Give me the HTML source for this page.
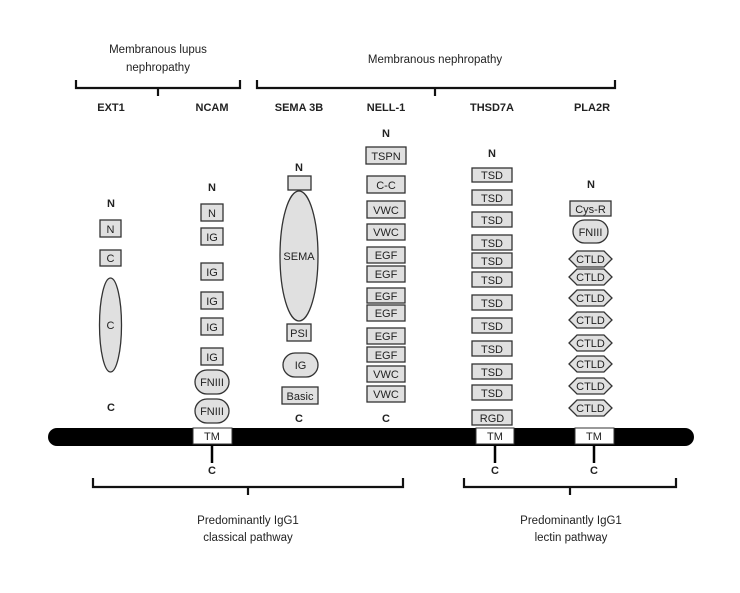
<!DOCTYPE html>
<html><head><meta charset="utf-8"><style>
html,body{margin:0;padding:0;background:#fff}
svg{display:block}
text{font-family:"Liberation Sans",sans-serif;fill:#222}
.b{font-weight:bold;font-size:11px}
.l{font-size:11px;text-anchor:middle}
.d{fill:#e0e0e0;stroke:#333;stroke-width:1.3}
.br{fill:none;stroke:#111;stroke-width:2.2}
</style></head><body>
<svg width="740" height="593" viewBox="0 0 740 593" xmlns="http://www.w3.org/2000/svg">
<!-- top brackets -->
<text class="l" x="158" y="53" style="font-size:11.5px">Membranous lupus</text>
<text class="l" x="158" y="71" style="font-size:11.5px">nephropathy</text>
<text class="l" x="435" y="63" style="font-size:11.5px">Membranous nephropathy</text>
<path class="br" d="M76 80 V88 H240 V80 M158 88 V96"/>
<path class="br" d="M257 80 V88 H615 V80 M435 88 V96"/>
<g class="b" text-anchor="middle">
<text x="111" y="111" class="b">EXT1</text>
<text x="212" y="111" class="b">NCAM</text>
<text x="299" y="111" class="b">SEMA 3B</text>
<text x="386" y="111" class="b">NELL-1</text>
<text x="492" y="111" class="b">THSD7A</text>
<text x="592" y="111" class="b">PLA2R</text>
</g>
<!-- membrane -->
<rect x="48" y="428" width="646" height="18" rx="9" fill="#000"/>
<g>
<rect x="193" y="428" width="39" height="16" fill="#fff" stroke="#333"/>
<rect x="476" y="428" width="38" height="16" fill="#fff" stroke="#333"/>
<rect x="575" y="428" width="39" height="16" fill="#fff" stroke="#333"/>
<text class="l" x="212" y="440">TM</text>
<text class="l" x="495" y="440">TM</text>
<text class="l" x="594" y="440">TM</text>
<path d="M212 446 V463 M495 446 V463 M594 446 V463" stroke="#000" stroke-width="2.5"/>
</g>
<g text-anchor="middle">
<text class="b" x="212" y="474" text-anchor="middle">C</text>
<text class="b" x="495" y="474" text-anchor="middle">C</text>
<text class="b" x="594" y="474" text-anchor="middle">C</text>
</g>
<!-- EXT1 -->
<text class="b" x="111" y="207" text-anchor="middle">N</text>
<rect class="d" x="100" y="220" width="21" height="17"/><text class="l" x="110.5" y="233">N</text>
<rect class="d" x="100" y="250" width="21" height="16"/><text class="l" x="110.5" y="262">C</text>
<ellipse class="d" cx="110.5" cy="325" rx="11" ry="47"/><text class="l" x="110.5" y="329">C</text>
<text class="b" x="111" y="411" text-anchor="middle">C</text>
<!-- NCAM -->
<text class="b" x="212" y="191" text-anchor="middle">N</text>
<g>
<rect class="d" x="201" y="204" width="22" height="17"/><text class="l" x="212" y="217">N</text>
<rect class="d" x="201" y="228" width="22" height="17"/><text class="l" x="212" y="241">IG</text>
<rect class="d" x="201" y="263" width="22" height="17"/><text class="l" x="212" y="276">IG</text>
<rect class="d" x="201" y="292" width="22" height="17"/><text class="l" x="212" y="305">IG</text>
<rect class="d" x="201" y="318" width="22" height="17"/><text class="l" x="212" y="331">IG</text>
<rect class="d" x="201" y="348" width="22" height="17"/><text class="l" x="212" y="361">IG</text>
<rect class="d" x="195" y="370" width="34" height="24" rx="12"/><text class="l" x="212" y="386">FNIII</text>
<rect class="d" x="195" y="399" width="34" height="24" rx="12"/><text class="l" x="212" y="415">FNIII</text>
</g>
<!-- SEMA 3B -->
<text class="b" x="299" y="171" text-anchor="middle">N</text>
<rect class="d" x="288" y="176" width="23" height="14"/>
<ellipse class="d" cx="299" cy="256" rx="19" ry="65"/><text class="l" x="299" y="260">SEMA</text>
<rect class="d" x="287" y="324" width="24" height="17"/><text class="l" x="299" y="337">PSI</text>
<rect class="d" x="283" y="353" width="35" height="24" rx="12"/><text class="l" x="300.5" y="369">IG</text>
<rect class="d" x="282" y="387" width="36" height="17"/><text class="l" x="300" y="400">Basic</text>
<text class="b" x="299" y="422" text-anchor="middle">C</text>
<!-- NELL-1 -->
<text class="b" x="386" y="137" text-anchor="middle">N</text>
<g>
<rect class="d" x="366" y="147" width="40" height="17"/><text class="l" x="386" y="160">TSPN</text>
<rect class="d" x="367" y="176" width="38" height="17"/><text class="l" x="386" y="189">C-C</text>
<rect class="d" x="367" y="201" width="38" height="17"/><text class="l" x="386" y="214">VWC</text>
<rect class="d" x="367" y="224" width="38" height="16"/><text class="l" x="386" y="236">VWC</text>
<rect class="d" x="367" y="247" width="38" height="16"/><text class="l" x="386" y="259">EGF</text>
<rect class="d" x="367" y="266" width="38" height="16"/><text class="l" x="386" y="278">EGF</text>
<rect class="d" x="367" y="288" width="38" height="15"/><text class="l" x="386" y="300">EGF</text>
<rect class="d" x="367" y="305" width="38" height="16"/><text class="l" x="386" y="317">EGF</text>
<rect class="d" x="367" y="328" width="38" height="16"/><text class="l" x="386" y="340">EGF</text>
<rect class="d" x="367" y="347" width="38" height="15"/><text class="l" x="386" y="359">EGF</text>
<rect class="d" x="367" y="366" width="38" height="16"/><text class="l" x="386" y="378">VWC</text>
<rect class="d" x="367" y="386" width="38" height="16"/><text class="l" x="386" y="398">VWC</text>
</g>
<text class="b" x="386" y="422" text-anchor="middle">C</text>
<!-- THSD7A -->
<text class="b" x="492" y="157" text-anchor="middle">N</text>
<g>
<rect class="d" x="472" y="168" width="40" height="14"/><text class="l" x="492" y="179">TSD</text>
<rect class="d" x="472" y="190" width="40" height="15"/><text class="l" x="492" y="202">TSD</text>
<rect class="d" x="472" y="212" width="40" height="15"/><text class="l" x="492" y="224">TSD</text>
<rect class="d" x="472" y="235" width="40" height="15"/><text class="l" x="492" y="247">TSD</text>
<rect class="d" x="472" y="253" width="40" height="15"/><text class="l" x="492" y="265">TSD</text>
<rect class="d" x="472" y="272" width="40" height="15"/><text class="l" x="492" y="284">TSD</text>
<rect class="d" x="472" y="295" width="40" height="15"/><text class="l" x="492" y="307">TSD</text>
<rect class="d" x="472" y="318" width="40" height="15"/><text class="l" x="492" y="330">TSD</text>
<rect class="d" x="472" y="341" width="40" height="15"/><text class="l" x="492" y="353">TSD</text>
<rect class="d" x="472" y="364" width="40" height="15"/><text class="l" x="492" y="376">TSD</text>
<rect class="d" x="472" y="385" width="40" height="15"/><text class="l" x="492" y="397">TSD</text>
<rect class="d" x="472" y="410" width="40" height="15"/><text class="l" x="492" y="422">RGD</text>
</g>
<!-- PLA2R -->
<text class="b" x="591" y="188" text-anchor="middle">N</text>
<rect class="d" x="570" y="201" width="41" height="15"/><text class="l" x="590.5" y="213">Cys-R</text>
<rect class="d" x="573" y="220" width="35" height="23" rx="11.5"/><text class="l" x="590.5" y="236">FNIII</text>
<g>
<polygon class="d" points="569,259 577,251 604,251 612,259 604,267 577,267"/><text class="l" x="590.5" y="263">CTLD</text>
<polygon class="d" points="569,277 577,269 604,269 612,277 604,285 577,285"/><text class="l" x="590.5" y="281">CTLD</text>
<polygon class="d" points="569,298 577,290 604,290 612,298 604,306 577,306"/><text class="l" x="590.5" y="302">CTLD</text>
<polygon class="d" points="569,320 577,312 604,312 612,320 604,328 577,328"/><text class="l" x="590.5" y="324">CTLD</text>
<polygon class="d" points="569,343 577,335 604,335 612,343 604,351 577,351"/><text class="l" x="590.5" y="347">CTLD</text>
<polygon class="d" points="569,364 577,356 604,356 612,364 604,372 577,372"/><text class="l" x="590.5" y="368">CTLD</text>
<polygon class="d" points="569,386 577,378 604,378 612,386 604,394 577,394"/><text class="l" x="590.5" y="390">CTLD</text>
<polygon class="d" points="569,408 577,400 604,400 612,408 604,416 577,416"/><text class="l" x="590.5" y="412">CTLD</text>
</g>
<!-- bottom brackets -->
<path class="br" d="M93 478 V487 H403 V478 M248 487 V495"/>
<path class="br" d="M464 478 V487 H676 V478 M570 487 V495"/>
<text class="l" x="248" y="524" style="font-size:11.5px">Predominantly IgG1</text>
<text class="l" x="248" y="541" style="font-size:11.5px">classical pathway</text>
<text class="l" x="571" y="524" style="font-size:11.5px">Predominantly IgG1</text>
<text class="l" x="571" y="541" style="font-size:11.5px">lectin pathway</text>
</svg>
</body></html>
